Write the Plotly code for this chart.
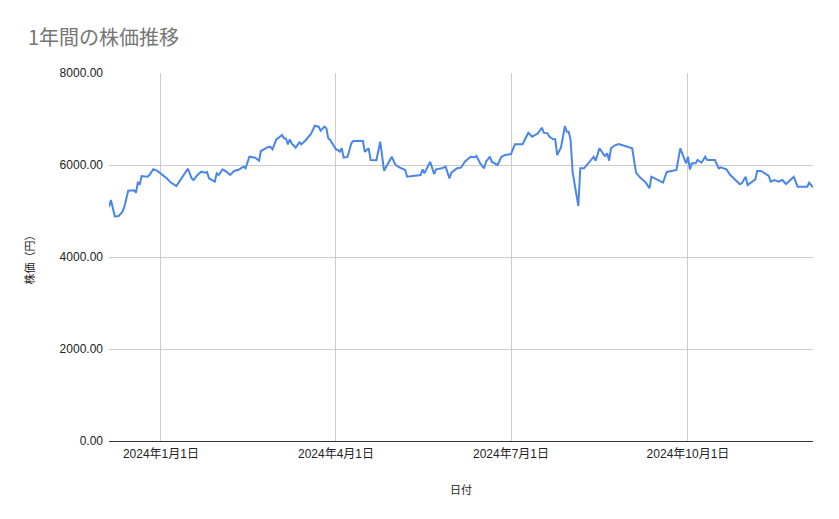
import plotly.graph_objects as go

# 日付と終値
dates = [
  "2023-12-05", "2023-12-06", "2023-12-08", "2023-12-10", "2023-12-12", "2023-12-13",
  "2023-12-15", "2023-12-18", "2023-12-19", "2023-12-20", "2023-12-21", "2023-12-22",
  "2023-12-25", "2023-12-26", "2023-12-28", "2023-12-30", "2024-01-04", "2024-01-06",
  "2024-01-09", "2024-01-12", "2024-01-15", "2024-01-17", "2024-01-18", "2024-01-20",
  "2024-01-22", "2024-01-24", "2024-01-25", "2024-01-26", "2024-01-29", "2024-01-30",
  "2024-01-31", "2024-02-02", "2024-02-04", "2024-02-06", "2024-02-08", "2024-02-10",
  "2024-02-13", "2024-02-14", "2024-02-16", "2024-02-19", "2024-02-21", "2024-02-22",
  "2024-02-26", "2024-02-27", "2024-02-28", "2024-03-01", "2024-03-04", "2024-03-05",
  "2024-03-06", "2024-03-07", "2024-03-08", "2024-03-09", "2024-03-11", "2024-03-13",
  "2024-03-14", "2024-03-16", "2024-03-19", "2024-03-21", "2024-03-23", "2024-03-24",
  "2024-03-26", "2024-03-27", "2024-03-28", "2024-03-29", "2024-04-01", "2024-04-02",
  "2024-04-03", "2024-04-04", "2024-04-05", "2024-04-07", "2024-04-09", "2024-04-10",
  "2024-04-15", "2024-04-16", "2024-04-18", "2024-04-19", "2024-04-22", "2024-04-24",
  "2024-04-26", "2024-04-30", "2024-05-02", "2024-05-04", "2024-05-07", "2024-05-08",
  "2024-05-13", "2024-05-15", "2024-05-16", "2024-05-17", "2024-05-20", "2024-05-22",
  "2024-05-23", "2024-05-26", "2024-05-28", "2024-05-30", "2024-05-31", "2024-06-03",
  "2024-06-05", "2024-06-07", "2024-06-10", "2024-06-12", "2024-06-13", "2024-06-15",
  "2024-06-17", "2024-06-18", "2024-06-20", "2024-06-21", "2024-06-24", "2024-06-26",
  "2024-06-28", "2024-07-01", "2024-07-03", "2024-07-05", "2024-07-07", "2024-07-10",
  "2024-07-12", "2024-07-15", "2024-07-17", "2024-07-18", "2024-07-20", "2024-07-21",
  "2024-07-23", "2024-07-24", "2024-07-25", "2024-07-27", "2024-07-29", "2024-07-30",
  "2024-07-31", "2024-08-01", "2024-08-02", "2024-08-05", "2024-08-06", "2024-08-08",
  "2024-08-11", "2024-08-13", "2024-08-14", "2024-08-16", "2024-08-18", "2024-08-19",
  "2024-08-20", "2024-08-21", "2024-08-22", "2024-08-24", "2024-08-26", "2024-08-27",
  "2024-09-02", "2024-09-04", "2024-09-06", "2024-09-09", "2024-09-11", "2024-09-12",
  "2024-09-15", "2024-09-18", "2024-09-20", "2024-09-24", "2024-09-25", "2024-09-27",
  "2024-09-30", "2024-10-01", "2024-10-02", "2024-10-03", "2024-10-05", "2024-10-06",
  "2024-10-08", "2024-10-10", "2024-10-11", "2024-10-15", "2024-10-17", "2024-10-18",
  "2024-10-21", "2024-10-23", "2024-10-24", "2024-10-28", "2024-10-29", "2024-10-31",
  "2024-11-01", "2024-11-05", "2024-11-06", "2024-11-08", "2024-11-12", "2024-11-13",
  "2024-11-15", "2024-11-17", "2024-11-19", "2024-11-21", "2024-11-25", "2024-11-27",
  "2024-12-02", "2024-12-03", "2024-12-05",
]
prices = [
  5090, 5240, 4880, 4890, 4985, 5094,
  5442, 5450, 5398, 5616, 5587, 5761,
  5746, 5783, 5906, 5877, 5710, 5623,
  5543, 5746, 5920, 5710, 5674, 5783,
  5855, 5833, 5848, 5710, 5637, 5820,
  5783, 5906, 5855, 5783, 5870, 5891,
  5963, 5928, 6180, 6159, 6093, 6304,
  6398, 6391, 6341, 6558, 6652, 6580,
  6572, 6450, 6558, 6471, 6376, 6493,
  6450, 6528, 6674, 6854, 6833, 6746,
  6833, 6797, 6580, 6543, 6341, 6326,
  6289, 6363, 6159, 6174, 6471, 6522,
  6522, 6289, 6363, 6109, 6102, 6507,
  5877, 6180, 6000, 5950, 5891, 5746,
  5783, 5783, 5906, 5820, 6072, 5804,
  5906, 5928, 5963, 5710, 5833, 5928,
  5942, 6072, 6180, 6167, 6196, 6036,
  5928, 6072, 6180, 6072, 6000, 6180,
  6217, 6239, 6450, 6457, 6450, 6702,
  6615, 6688, 6811, 6702, 6688, 6615,
  6558, 6558, 6217, 6384, 6848, 6724,
  6724, 6543, 5855, 5109, 5928, 5928,
  6093, 6180, 6093, 6363, 6239, 6196,
  6254, 6093, 6363, 6428, 6457, 6442,
  6363, 5833, 5732, 5623, 5493, 5746,
  5688, 5616, 5848, 5870, 5891, 6363,
  6036, 6180, 5906, 6036, 6036, 6109,
  6050, 6180, 6109, 6109, 5928, 5950,
  5906, 5783, 5746, 5580, 5602, 5746,
  5565, 5688, 5870, 5870, 5761, 5637,
  5674, 5637, 5674, 5587, 5746, 5529,
  5529, 5616, 5515,
]

tick_dates = ["2024-01-01", "2024-04-01", "2024-07-01", "2024-10-01"]
tick_labels = ["2024年1月1日", "2024年4月1日", "2024年7月1日", "2024年10月1日"]
y_ticks = [0, 2000, 4000, 6000, 8000]

font_family = "Liberation Sans, Arial, Noto Sans CJK JP"

fig = go.Figure()
fig.add_trace(go.Scatter(
  x=dates, y=prices, mode="lines",
  line=dict(color="#4a86e8", width=2),
  showlegend=False,
))

# ページの body に 8px の余白が付くので、その分だけ詰めておく
fig.update_layout(
  width=839, height=519,
  margin=dict(l=101, r=34, t=65, b=86),
  paper_bgcolor="white", plot_bgcolor="white",
  font=dict(family=font_family, size=12, color="#222222"),
  title=dict(
    text="1年間の株価推移",
    x=20 / 839, xref="container", xanchor="left",
    y=1 - 30 / 519, yref="container", yanchor="middle",
    font=dict(family="Noto Sans CJK JP, Liberation Sans", size=20, color="#757575"),
  ),
)
fig.update_xaxes(
  range=[dates[0], dates[-1]],
  tickvals=tick_dates, ticktext=tick_labels,
  showgrid=True, gridcolor="#cccccc", gridwidth=1,
  showline=False, zeroline=False, ticks="",
  ticklabelstandoff=4,
  tickfont=dict(size=12, color="#222222"),
  title=dict(text="日付", font=dict(size=11, color="#222222"), standoff=26),
)
fig.update_yaxes(
  range=[0, 8000],
  tickvals=y_ticks, tickformat=".2f",
  showgrid=True, gridcolor="#cccccc", gridwidth=1,
  zeroline=True, zerolinecolor="#333333", zerolinewidth=1,
  showline=False, ticks="", ticklen=0,
  ticklabelstandoff=5,
  tickfont=dict(size=12, color="#222222"),
  title=dict(text="株価（円）", font=dict(size=11, color="#222222"), standoff=22),
)

fig.write_html("out.html")
